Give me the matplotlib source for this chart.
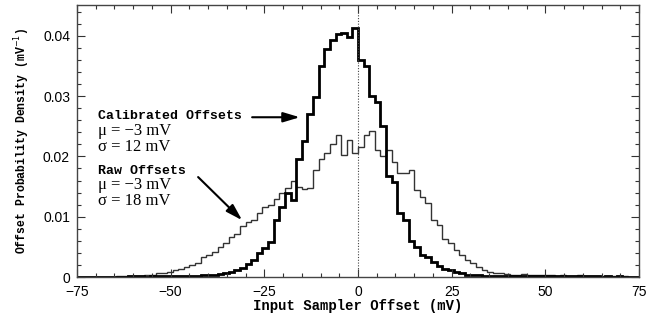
import matplotlib.pyplot as plt
import numpy as np
from matplotlib.ticker import MultipleLocator, FixedLocator

# histogram bins: -75 .. 75 mV, 1.5 mV wide
bin_edges = np.linspace(-75, 75, 101)

# calibrated offsets, density in units of 1e-3 per mV
calibrated = [0, 0, 0, 0, 0, 0, 0, 0.05, 0.05, 0.1,
              0.1, 0.1, 0.05, 0.1, 0.2, 0.1, 0.2, 0.1, 0.2, 0.2,
              0.2, 0.2, 0.3, 0.3, 0.4, 0.5, 0.7, 0.9, 1.2, 1.5,
              2.1, 2.8, 4.0, 4.8, 5.8, 9.5, 11.6, 14.0, 12.8, 19.5,
              22.5, 27.0, 29.8, 35.0, 37.8, 39.3, 40.3, 40.5, 39.8, 41.3,
              36.0, 35.0, 30.0, 29.0, 25.0, 16.8, 15.8, 10.6, 9.5, 6.0,
              5.0, 3.7, 3.3, 2.5, 1.8, 1.4, 1.2, 0.9, 0.6, 0.4,
              0.3, 0.3, 0.2, 0.2, 0.2, 0.1, 0.2, 0.1, 0.2, 0.2,
              0.1, 0.1, 0.2, 0.1, 0.1, 0.2, 0.1, 0.1, 0.1, 0.2,
              0.1, 0.1, 0.1, 0.05, 0.1, 0.05, 0.1, 0, 0, 0]

# raw offsets, density in units of 1e-3 per mV
raw = [0, 0, 0, 0, 0, 0, 0, 0.1, 0.1, 0.1,
       0.2, 0.2, 0.3, 0.4, 0.6, 0.7, 0.8, 1.1, 1.4, 1.6,
       2.0, 2.4, 3.3, 3.6, 4.2, 5.0, 5.6, 6.6, 7.2, 8.4,
       9.2, 9.5, 10.6, 11.6, 12.0, 13.0, 14.0, 14.8, 16.0, 15.0,
       14.6, 14.8, 17.8, 19.5, 20.5, 22.0, 23.6, 20.2, 22.7, 20.5,
       21.6, 23.6, 24.3, 21.0, 20.0, 21.0, 19.0, 17.3, 17.3, 17.8,
       14.5, 13.3, 12.3, 9.5, 8.6, 6.3, 5.6, 4.5, 3.7, 2.8,
       2.3, 1.7, 1.2, 0.8, 0.7, 0.6, 0.5, 0.4, 0.4, 0.5,
       0.3, 0.3, 0.4, 0.3, 0.3, 0.2, 0.3, 0.2, 0.2, 0.3,
       0.2, 0.2, 0.2, 0.1, 0.2, 0.1, 0.1, 0.1, 0, 0]

calibrated = np.array(calibrated) * 1e-3
raw = np.array(raw) * 1e-3

x_ticks = [-75, -50, -25, 0, 25, 50, 75]
y_ticks = [0, 0.01, 0.02, 0.03, 0.04]
y_tick_labels = ["0", "0.01", "0.02", "0.03", "0.04"]

mono = "Liberation Mono"
serif = "Liberation Serif"
sans = "Liberation Sans"

fig = plt.figure(figsize=(6.62, 3.18), dpi=100)
ax = fig.add_axes([0.1163, 0.1289, 0.849, 0.855])

ax.stairs(raw, bin_edges, color="#333333", linewidth=1.0)
ax.stairs(calibrated, bin_edges, color="black", linewidth=2.0)
ax.axvline(0, color="#444444", linewidth=0.8, linestyle=(0, (1, 1.5)))

ax.set_xlim(-75, 75)
ax.set_ylim(0, 0.0451)

ax.xaxis.set_major_locator(FixedLocator(x_ticks))
ax.xaxis.set_minor_locator(MultipleLocator(5))
ax.yaxis.set_major_locator(FixedLocator(y_ticks))
ax.yaxis.set_minor_locator(MultipleLocator(0.002))
ax.set_xticklabels([str(t).replace("-", "\u2212") for t in x_ticks], family=sans, fontsize=10)
ax.set_yticklabels(y_tick_labels, family=sans, fontsize=10)
ax.tick_params(which="both", direction="in", top=True, right=True, width=0.8, colors="#333333")
ax.tick_params(which="major", length=6, labelcolor="black")
ax.tick_params(axis="x", which="major", pad=6)
ax.tick_params(axis="y", which="major", pad=5)
ax.tick_params(which="minor", length=3)
for s in ax.spines.values():
    s.set_linewidth(1.0)
    s.set_color("#444444")

ax.set_xlabel("Input Sampler Offset (mV)", family=mono, fontweight="bold", fontsize=10, labelpad=0)
ax.set_ylabel("Offset Probability Density (mV$^{-1}$)", family=mono, fontweight="bold", fontsize=8.3, labelpad=8)

# annotations
arrow_style = dict(arrowstyle="-|>,head_length=1.0,head_width=0.3", color="black", lw=1.5)

ax.text(-69.4, 0.0267, "Calibrated Offsets", family=mono, fontweight="bold", fontsize=9.5, va="center")
ax.text(-69.4, 0.0243, "\u03bc = \u22123 mV", family=serif, fontsize=12, va="center")
ax.text(-69.4, 0.0215, "\u03c3 = 12 mV", family=serif, fontsize=12, va="center")
ax.annotate("", xy=(-14.8, 0.0265), xytext=(-29.0, 0.0265), arrowprops=arrow_style)

ax.text(-69.4, 0.0176, "Raw Offsets", family=mono, fontweight="bold", fontsize=9.5, va="center")
ax.text(-69.4, 0.0152, "\u03bc = \u22123 mV", family=serif, fontsize=12, va="center")
ax.text(-69.4, 0.0126, "\u03c3 = 18 mV", family=serif, fontsize=12, va="center")
ax.annotate("", xy=(-30.4, 0.0091), xytext=(-43.2, 0.0169), arrowprops=arrow_style)

fig.savefig("out.png", dpi=100)
